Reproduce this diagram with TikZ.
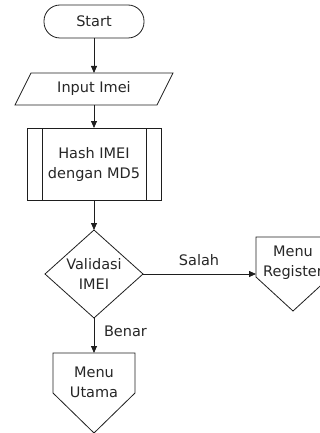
\documentclass[tikz,border=0pt]{standalone}
\usepackage{fontspec}
\setmainfont{DejaVu Sans}
\usetikzlibrary{arrows.meta,calc}
\definecolor{linecol}{HTML}{1E1E1E}
\definecolor{txtcol}{HTML}{262626}
\begin{document}
\begin{tikzpicture}[x=1pt,y=-1pt,
  txt/.style={font=\fontsize{14.5pt}{20pt}\selectfont, text=txtcol, align=center, inner sep=0pt, outer sep=0pt},
  shapebox/.style={draw=none, inner sep=0pt, outer sep=0pt},
  outline/.style={draw=linecol, line width=0.8pt},
  conn/.style={draw=linecol, line width=0.8pt, -{Triangle[length=7pt,width=6pt]}}]
\useasboundingbox (0,0) rectangle (320,433);
\clip (0,0) rectangle (320,433);

% Start terminator
\node[txt, outline, rounded corners=16pt, minimum width=100pt, minimum height=33pt] (start) at (94,21.5) {Start};

% Input (parallelogram)
\node[txt, minimum width=142pt, minimum height=32pt] (input) at (94,89) {Input Imei};
\draw[outline] ($(input.north west)+(8,0)$) -- ($(input.north east)+(8,0)$)
  -- ($(input.south east)+(-8,0)$) -- ($(input.south west)+(-8,0)$) -- cycle;

% Predefined process
\node[txt, outline, minimum width=134pt, minimum height=72pt] (hash) at (94,164) {Hash IMEI\\dengan MD5};
\draw[outline] ($(hash.north west)+(15,0)$) -- ($(hash.south west)+(15,0)$);
\draw[outline] ($(hash.north east)+(-15,0)$) -- ($(hash.south east)+(-15,0)$);

% Decision
\node[txt, minimum width=98pt, minimum height=88pt] (val) at (94,274) {Validasi\\IMEI};
\draw[outline] (val.north) -- (val.east) -- (val.south) -- (val.west) -- cycle;

% Off-page connector: Menu Register
\node[shapebox, minimum width=74pt, minimum height=74pt] (reg) at (293,274) {};
\draw[outline] (reg.north west) -- (reg.north east) -- ($(reg.east)+(0,3)$)
  -- (reg.south) -- ($(reg.west)+(0,3)$) -- cycle;
\node[txt] (regtxt) at (293,263) {Menu\\Register};

% Off-page connector: Menu Utama
\node[shapebox, minimum width=82pt, minimum height=80pt] (mu) at (94,393) {};
\draw[outline] (mu.north west) -- (mu.north east) -- (mu.east)
  -- (mu.south) -- (mu.west) -- cycle;
\node[txt] (mutxt) at (94,382) {Menu\\Utama};

% Labels
\node[txt] (salah) at (199,260) {Salah};
\node[txt, anchor=west] (benar) at (104,331) {Benar};

% Connectors
\draw[conn] (start.south) -- (input.north);
\draw[conn] (input.south) -- (hash.north);
\draw[conn] (hash.south) -- (val.north);
\draw[conn] (val.east) -- (reg.west);
\draw[conn] (val.south) -- (mu.north);
\end{tikzpicture}
\end{document}
